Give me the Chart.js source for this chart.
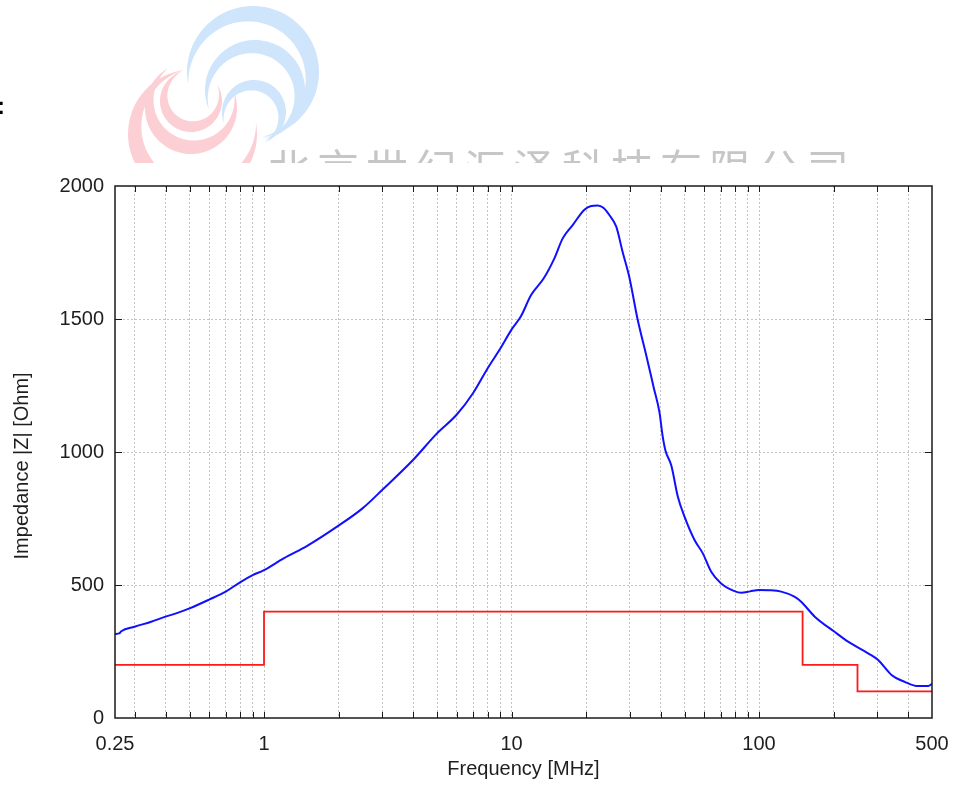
<!DOCTYPE html>
<html>
<head>
<meta charset="utf-8">
<script src="https://cdn.jsdelivr.net/npm/chart.js@4"></script>
<style>
  html, body { margin: 0; padding: 0; background: #fff; }
  #wrap { width: 956px; height: 785px; }
</style>
</head>
<body>
<div id="wrap"><canvas id="myChart" width="956" height="785"></canvas></div>
<script>
const freqMHz = [0.25, 0.26, 0.265, 0.3, 0.35, 0.4, 0.45, 0.5, 0.6, 0.7, 0.8, 0.9,
  1, 1.2, 1.5, 2, 2.5, 3, 4, 5, 6, 7, 8, 9,
  10, 10.9, 12, 13.5, 14.9, 16.1, 17.7, 19.7, 21, 22.3, 23.5, 24.8, 26.5, 28.1, 29.9,
  32.3, 35, 37.6, 39.6, 40.8, 41.9, 44.2, 47, 50, 54.9, 59.3, 64.1, 70.3, 79.6, 84.7, 92,
  100, 112, 123, 139, 148, 168, 202, 229, 276, 303, 343, 388, 440, 483, 500];
const impedanceOhm = [316, 318, 326, 343, 362, 381, 396, 412, 445, 475, 510, 537,
  556, 600, 648, 723, 788, 857, 970, 1070, 1140, 1222, 1314, 1388,
  1460, 1509, 1590, 1653, 1728, 1803, 1854, 1911, 1925, 1927, 1918, 1892, 1847, 1753, 1659,
  1500, 1365, 1240, 1150, 1060, 1005, 950, 832, 757, 669, 619, 550, 506, 477, 471, 476,
  481, 480, 475, 456, 437, 381, 324, 287, 243, 218, 162, 136, 120, 120, 128];

// limit line (step)
const limitFreqMHz = [0.25, 1, 150, 250, 500];
const limitOhm = [200, 400, 200, 100, 100];

// axes
const xGridValues = [0.25, 0.3, 0.4, 0.5, 0.6, 0.7, 0.8, 0.9,
  1, 2, 3, 4, 5, 6, 7, 8, 9, 10, 20, 30, 40, 50, 60, 70, 80, 90, 100, 200, 300, 400, 500];
const xTickLabels = [0.25, 1, 10, 100, 500];
const yTickValues = [0, 500, 1000, 1500, 2000];

const textColor = '#1e1e1e';
const gridColor = '#c4c4c4';
const font = { family: '"Liberation Sans", Arial, sans-serif', size: 20 };

// faint company logo + name above the chart (cut off at the bottom)
function crescent(ctx, cx, cy, r, a1, a2, t, color) {
  const n = 80;
  ctx.beginPath();
  for (let i = 0; i <= n; i++) {
    const a = (a1 + (a2 - a1) * i / n) * Math.PI / 180;
    ctx.lineTo(cx + r * Math.cos(a), cy + r * Math.sin(a));
  }
  for (let i = n; i >= 0; i--) {
    const s = i / n;
    const a = (a1 + (a2 - a1) * s) * Math.PI / 180;
    const rr = r - t * Math.sin(Math.PI * s);
    ctx.lineTo(cx + rr * Math.cos(a), cy + rr * Math.sin(a));
  }
  ctx.closePath();
  ctx.fillStyle = color;
  ctx.fill();
}

const watermark = {
  id: 'watermark',
  beforeDraw(chart) {
    const ctx = chart.ctx;
    ctx.save();
    ctx.beginPath();
    ctx.rect(0, 0, chart.width, 163);
    ctx.clip();
    const pink = '#fccfd5', blue = '#cfe5fb';
    crescent(ctx, 192.5, 134, 64.5, -98, -370, 17, pink);
    crescent(ctx, 191, 108, 46, -120, -380, 14, pink);
    crescent(ctx, 191, 101, 31, -107, -392, 11, pink);
    crescent(ctx, 253, 72, 66, 82, -191, 17, blue);
    crescent(ctx, 255, 90, 50, 80, -203, 14, blue);
    crescent(ctx, 254, 112, 32, 72, -200, 11, blue);
    ctx.fillStyle = '#c6c6c6';
    ctx.font = '42px "Noto Sans CJK SC"';
    ctx.letterSpacing = '7px';
    ctx.textBaseline = 'alphabetic';
    ctx.fillText('北京世纪汇泽科技有限公司', 268, 185);
    ctx.restore();

    ctx.save();
    ctx.fillStyle = '#000';
    ctx.font = 'bold 24px "Liberation Sans"';
    ctx.fillText(':', -3, 114);
    ctx.restore();
  }
};

// plot frame with inward ticks on all four sides
const frame = {
  id: 'frame',
  afterDatasetsDraw(chart) {
    const { ctx, chartArea: { left, right, top, bottom }, scales: { x, y } } = chart;
    ctx.save();
    ctx.strokeStyle = '#1a1a1a';
    ctx.lineWidth = 1;
    ctx.beginPath();
    xGridValues.forEach(v => {
      if (v <= 0.25 || v >= 500) return;
      const px = Math.round(x.getPixelForValue(v)) + 0.5;
      ctx.moveTo(px, bottom); ctx.lineTo(px, bottom - 6);
      ctx.moveTo(px, top); ctx.lineTo(px, top + 6);
    });
    yTickValues.forEach(v => {
      if (v <= 0 || v >= 2000) return;
      const py = Math.round(y.getPixelForValue(v)) + 0.5;
      ctx.moveTo(left, py); ctx.lineTo(left + 7, py);
      ctx.moveTo(right, py); ctx.lineTo(right - 7, py);
    });
    ctx.stroke();
    ctx.lineWidth = 1.5;
    ctx.strokeRect(left, top, right - left, bottom - top);
    ctx.restore();
  }
};

const config = {
  type: 'line',
  data: {
    datasets: [
      {
        label: 'Impedance |Z|',
        data: freqMHz.map((f, i) => ({ x: f, y: impedanceOhm[i] })),
        borderColor: '#1010ff',
        borderWidth: 2,
        pointRadius: 0,
        cubicInterpolationMode: 'monotone',
      },
      {
        label: 'Limit',
        data: limitFreqMHz.map((f, i) => ({ x: f, y: limitOhm[i] })),
        borderColor: '#ff1a1a',
        borderWidth: 1.8,
        pointRadius: 0,
        stepped: true,
      },
    ],
  },
  options: {
    responsive: false,
    animation: false,
    layout: { padding: { top: 186, right: 24, left: 0, bottom: 0 } },
    plugins: { legend: { display: false }, tooltip: { enabled: false } },
    scales: {
      x: {
        type: 'logarithmic',
        min: 0.25,
        max: 500,
        afterBuildTicks: s => { s.ticks = xGridValues.map(v => ({ value: v })); },
        afterFit: s => { s.height = 67; s.paddingLeft = 0; s.paddingRight = 0; },
        ticks: {
          autoSkip: false, maxRotation: 0, minRotation: 0, padding: 14,
          color: textColor, font,
          callback: v => xTickLabels.includes(v) ? String(v) : '',
        },
        grid: {
          drawTicks: false, lineWidth: 1,
          color: c => (c.tick && (c.tick.value === 0.25 || c.tick.value === 500)) ? 'rgba(0,0,0,0)' : gridColor,
        },
        border: { display: false, dash: [2, 2] },
        title: { display: true, text: 'Frequency [MHz]', color: textColor, font, padding: { top: 0, bottom: 4 } },
      },
      y: {
        min: 0,
        max: 2000,
        afterBuildTicks: s => { s.ticks = yTickValues.map(v => ({ value: v })); },
        afterFit: s => { s.width = 115; s.paddingTop = 0; s.paddingBottom = 0; },
        ticks: { padding: 11, color: textColor, font, callback: v => String(v) },
        grid: {
          drawTicks: false, lineWidth: 1,
          color: c => (c.tick && (c.tick.value === 0 || c.tick.value === 2000)) ? 'rgba(0,0,0,0)' : gridColor,
        },
        border: { display: false, dash: [2, 2] },
        title: { display: true, text: 'Impedance |Z| [Ohm]     ', color: textColor, font, padding: { top: 10, bottom: 0 } },
      },
    },
  },
  plugins: [watermark, frame],
};

const chart = new Chart(document.getElementById('myChart').getContext('2d'), config);
</script>
</body>
</html>
